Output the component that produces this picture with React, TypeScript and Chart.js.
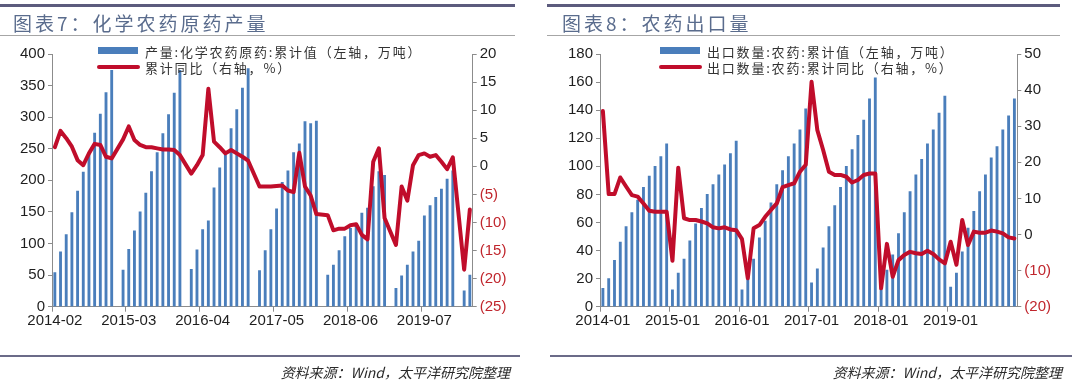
import React, { useEffect, useRef } from 'react';
import { Chart, registerables } from 'chart.js';

Chart.register(...registerables);

const BLUE = '#4a7ebb';
const RED = '#c00d2b';
const NEG_TEXT = '#c0262d';
const AXIS = '#8c8c8c';
const TEXT = '#1e1e1e';
const NUM_FONT = '"Liberation Sans", Arial, sans-serif';
const CJK_FONT = '"Noto Sans CJK SC", "Noto Sans", sans-serif';

function monthLabels(year: number, month: number, count: number): string[] {
  const out: string[] = [];
  let y = year;
  let m = month;
  for (let i = 0; i < count; i++) {
    out.push(`${y}-${String(m).padStart(2, '0')}`);
    m++;
    if (m > 12) { m = 1; y++; }
  }
  return out;
}

// ---------- 图表7：化学农药原药产量 ----------
const prodCategories = monthLabels(2014, 2, 74); // 2014-02 … 2020-03
const prodTickLabels = ['2014-02', '2015-03', '2016-04', '2017-05', '2018-06', '2019-07'];
const prodCumulative: (number | null)[] = [
  54, 87, 114, 149, 183, 213, 243, 275, 305, 339, 374,
  null, 58, 91, 120, 150, 180, 214, 244, 274, 304, 338, 374,
  null, 59, 90, 122, 136, 188, 220, 240, 282, 312, 346, 377,
  null, 57, 89, 122, 155, 197, 215, 244, 258, 293, 290, 294,
  null, 50, 66, 89, 111, 124, 128, 148, 156, 190, 214, 208,
  null, 29, 49, 66, 87, 104, 144, 160, 173, 186, 202, 215,
  null, 25, 50,
];
const prodYoy: (number | null)[] = [
  3.4, 6.3, 5.0, 3.5, 1.1, 0.2, 2.3, 4.0, 3.8, 1.7, 1.4,
  null, 4.8, 7.1, 4.7, 3.8, 3.4, 3.4, 3.2, 3.0, 3.0, 2.9, 2.0,
  null, -1.3, 0.2, 2.0, 13.8, 4.4, 3.4, 2.3, 2.9, 2.3, 1.7, 1.0,
  null, -3.6, -3.6, -3.6, -3.5, -3.4, -4.3, -4.6, 2.4, -3.6, -5.2, -8.5,
  null, -8.7, -11.4, -11.1, -11.1, -10.5, -10.3, -12.2, -13.0, 0.8, 3.2, -9.2,
  null, -14.0, -3.6, -6.1, 0.2, 2.0, 2.3, 1.7, 2.0, 0.8, -0.5, 1.6,
  null, -18.4, -7.7,
];

// ---------- 图表8：农药出口量 ----------
const exportCategories = monthLabels(2014, 1, 72); // 2014-01 … 2019-12
const exportTickLabels = ['2014-01', '2015-01', '2016-01', '2017-01', '2018-01', '2019-01'];
const exportCumulative: number[] = [
  13, 20, 33, 46, 57, 67, 76, 85, 93, 100, 107, 116,
  12, 24, 34, 47, 59, 70, 80, 87, 94, 101, 109, 118,
  12, 22, 34, 49, 61, 74, 87, 97, 107, 116, 126, 141,
  17, 27, 42, 57, 72, 85, 100, 112, 122, 133, 148, 163,
  13, 26, 37, 52, 67, 82, 94, 105, 116, 126, 138, 150,
  14, 24, 39, 56, 68, 82, 94, 106, 114, 126, 136, 148,
];
const exportYoy: number[] = [
  34.2, 11.2, 11.2, 15.8, 13.3, 10.9, 10.5, 8.6, 6.6, 6.3, 6.3, 6.3,
  -7.3, 18.5, 4.5, 4.0, 4.0, 3.6, 3.1, 2.0, 1.7, 2.0, 1.4, 1.2,
  -1.3, -12.1, 1.7, 2.6, 4.9, 6.8, 8.6, 13.1, 13.7, 14.2, 17.4, 19.3,
  42.3, 28.9, 23.4, 17.4, 16.5, 16.5, 16.0, 14.4, 15.1, 16.5, 16.9, 16.9,
  -14.9, -2.6, -11.7, -7.1, -5.7, -4.8, -5.2, -5.4, -4.5, -5.4, -6.9, -8.0,
  -2.0, -8.4, 4.0, -2.9, 0.8, 0.5, 0.5, 1.1, 0.8, 0.3, -0.8, -1.1,
];

type PanelProps = {
  left: number;
  categories: string[];
  tickLabels: string[];
  bars: (number | null)[];
  yoy: (number | null)[];
  leftMax: number;
  leftStep: number;
  rightMin: number;
  rightMax: number;
  rightStep: number;
  leftAxisWidth: number;
  rightPad: number;
};

function ChartPanel(p: PanelProps) {
  const ref = useRef<HTMLCanvasElement>(null);
  useEffect(() => {
    if (!ref.current) return;
    const isTick = (i: number) => p.tickLabels.includes(p.categories[i]);
    const tickFont = { family: NUM_FONT, size: 15 };
    const chart = new Chart(ref.current, {
      type: 'bar',
      data: {
        labels: p.categories,
        datasets: [
          {
            type: 'line',
            data: p.yoy,
            yAxisID: 'y1',
            borderColor: RED,
            backgroundColor: RED,
            borderWidth: 4,
            pointRadius: 0,
            spanGaps: true,
            tension: 0,
            borderJoinStyle: 'round',
            borderCapStyle: 'round',
            order: 0,
          } as any,
          {
            type: 'bar',
            data: p.bars,
            yAxisID: 'y',
            backgroundColor: BLUE,
            barThickness: 2.2,
            order: 1,
          } as any,
        ],
      },
      options: {
        responsive: false,
        animation: false,
        devicePixelRatio: 1,
        layout: { padding: { left: 0, right: p.rightPad, top: 54, bottom: 392 - 306.7 - 25 } },
        plugins: { legend: { display: false }, tooltip: { enabled: false } },
        scales: {
          x: {
            type: 'category',
            offset: true,
            grid: {
              offset: true,
              drawOnChartArea: false,
              drawTicks: true,
              tickLength: 5,
              tickWidth: 1,
              tickColor: (c: any) => (isTick(c.index) ? AXIS : 'rgba(0,0,0,0)'),
            },
            border: { color: AXIS, width: 1 },
            ticks: {
              autoSkip: false,
              maxRotation: 0,
              minRotation: 0,
              padding: 0,
              color: TEXT,
              font: tickFont,
              callback: (_v: any, i: number) => (isTick(i) ? p.categories[i] : ''),
            },
            afterFit: (s: any) => { s.height = 25; },
          },
          y: {
            position: 'left',
            min: 0,
            max: p.leftMax,
            ticks: { stepSize: p.leftStep, color: TEXT, font: tickFont, padding: 3 },
            grid: { drawOnChartArea: false, tickLength: 4, tickColor: AXIS },
            border: { color: AXIS, width: 1 },
            afterFit: (s: any) => { s.width = p.leftAxisWidth; },
          },
          y1: {
            position: 'right',
            min: p.rightMin,
            max: p.rightMax,
            ticks: {
              stepSize: p.rightStep,
              font: tickFont,
              padding: 3,
              color: (c: any) => (c.tick && c.tick.value < 0 ? NEG_TEXT : TEXT),
              callback: (v: any) => (Number(v) < 0 ? `(${Math.abs(Number(v))})` : `${v}`),
            },
            grid: { drawOnChartArea: false, tickLength: 4, tickColor: AXIS },
            border: { color: AXIS, width: 1 },
            afterFit: (s: any) => { s.width = 40; },
          },
        },
      } as any,
    });
    return () => chart.destroy();
  }, []);
  return (
    <canvas
      ref={ref}
      width={540}
      height={392}
      style={{ position: 'absolute', left: p.left, top: 0, width: 540, height: 392 }}
    />
  );
}

function Legend(props: { swatchX: number; textX: number; barText: string; lineText: string }) {
  const textStyle: React.CSSProperties = {
    position: 'absolute',
    left: props.textX,
    fontFamily: CJK_FONT,
    fontSize: 13,
    lineHeight: '16px',
    letterSpacing: '1.8px',
    color: '#333',
    whiteSpace: 'nowrap',
  };
  return (
    <>
      <div style={{ position: 'absolute', left: props.swatchX, top: 47, width: 40, height: 7, background: BLUE }} />
      <div style={{ position: 'absolute', left: props.swatchX - 1, top: 65, width: 43, height: 4, background: RED, borderRadius: 2 }} />
      <div style={{ ...textStyle, top: 44 }}>{props.barText}</div>
      <div style={{ ...textStyle, top: 60 }}>{props.lineText}</div>
    </>
  );
}

function Frame(props: { x: number; topEnd: number; bottomX: number; bottomEnd: number; title: string; titleX: number; sourceEnd: number }) {
  return (
    <>
      <div style={{ position: 'absolute', left: props.x, top: 4, width: props.topEnd - props.x, height: 3, background: '#5c5b7d' }} />
      <div
        style={{
          position: 'absolute',
          left: props.titleX,
          top: 10,
          fontFamily: CJK_FONT,
          fontSize: 19,
          lineHeight: '26px',
          letterSpacing: '3px',
          color: '#5a6c8d',
          whiteSpace: 'nowrap',
        }}
      >
        {props.title}
      </div>
      <div style={{ position: 'absolute', left: props.x, top: 35, width: props.topEnd - props.x, height: 1, background: '#a6a6a6' }} />
      <div style={{ position: 'absolute', left: props.bottomX, top: 355, width: props.bottomEnd - props.bottomX, height: 2, background: '#6b6b88' }} />
      <div
        style={{
          position: 'absolute',
          left: props.sourceEnd - 300,
          width: 300,
          top: 362,
          textAlign: 'right',
          fontFamily: CJK_FONT,
          fontStyle: 'italic',
          fontSize: 14,
          lineHeight: '20px',
          color: '#2a2a2a',
          whiteSpace: 'nowrap',
        }}
      >
        资料来源：Wind，太平洋研究院整理
      </div>
    </>
  );
}

export default function App() {
  return (
    <div style={{ position: 'fixed', left: 0, top: 0, width: 1080, height: 392, background: '#fff', overflow: 'hidden' }}>
      <ChartPanel
        left={0}
        categories={prodCategories}
        tickLabels={prodTickLabels}
        bars={prodCumulative}
        yoy={prodYoy}
        leftMax={400}
        leftStep={50}
        rightMin={-25}
        rightMax={20}
        rightStep={5}
        leftAxisWidth={52}
        rightPad={540 - 472.7 - 40}
      />
      <ChartPanel
        left={540}
        categories={exportCategories}
        tickLabels={exportTickLabels}
        bars={exportCumulative}
        yoy={exportYoy}
        leftMax={180}
        leftStep={20}
        rightMin={-20}
        rightMax={50}
        rightStep={10}
        leftAxisWidth={60}
        rightPad={540 - 477.3 - 40}
      />
      <Frame x={0} topEnd={515} bottomX={0} bottomEnd={520} title="图表7：化学农药原药产量" titleX={13} sourceEnd={510} />
      <Frame x={547} topEnd={1060} bottomX={550} bottomEnd={1072} title="图表8：农药出口量" titleX={562} sourceEnd={1062} />
      <Legend swatchX={98} textX={145} barText="产量:化学农药原药:累计值（左轴，万吨）" lineText="累计同比（右轴，%）" />
      <Legend swatchX={660} textX={707} barText="出口数量:农药:累计值（左轴，万吨）" lineText="出口数量:农药:累计同比（右轴，%）" />
    </div>
  );
}
